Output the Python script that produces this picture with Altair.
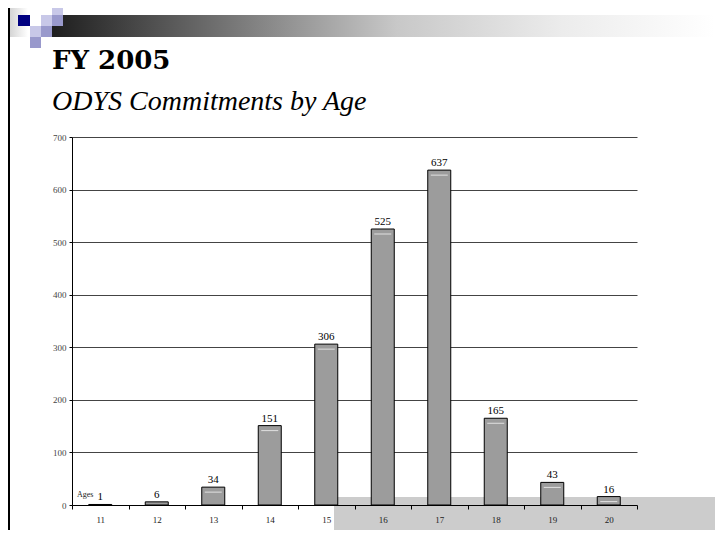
import altair as alt
import pandas as pd

# ---- data ----
ages = ["11", "12", "13", "14", "15", "16", "17", "18", "19", "20"]
commitments = [1, 6, 34, 151, 306, 525, 637, 165, 43, 16]
y_ticks = [0, 100, 200, 300, 400, 500, 600, 700]
title_text = "FY 2005"
subtitle_text = "ODYS Commitments by Age"
x_caption = "Ages"

df = pd.DataFrame({"age": ages, "value": commitments})
one = pd.DataFrame({"k": [0]})

SERIF = "Liberation Serif"

x_enc = alt.X(
    "age:N", sort=ages,
    scale=alt.Scale(paddingInner=0, paddingOuter=0),
    axis=alt.Axis(title=None, tickBand="extent", zindex=1, labelAngle=0,
                  domainColor="black", tickColor="black", tickSize=4,
                  labelPadding=6, labelFont=SERIF, labelFontSize=9,
                  labelColor="#222", grid=False),
)
y_enc = alt.Y(
    "value:Q",
    scale=alt.Scale(domain=[0, 700], nice=False, zero=True),
    axis=alt.Axis(title=None, values=y_ticks, grid=True, gridColor="#444",
                  gridOpacity=1, domainColor="black", tickColor="black",
                  tickSize=3, labelPadding=3, labelFont=SERIF,
                  labelFontSize=9, labelColor="#444"),
)


def rect(x, x2, y, y2, color):
    return alt.Chart(one).mark_rect(color=color).encode(
        x=alt.value(x), x2=alt.value(x2), y=alt.value(y), y2=alt.value(y2)
    )


# ---- decorations (slide template) ----
gray_box = rect(262, 651, 360, 406, "#cccccc")
left_strip = rect(-64, -44, -129, -100, alt.Gradient(
    gradient="linear", x1=0, x2=1, y1=0, y2=0,
    stops=[alt.GradientStop(color="#d0d0d0", offset=0),
           alt.GradientStop(color="#ffffff", offset=1)]))
header_bar = rect(-20, 643, -122, -100, alt.Gradient(
    gradient="linear", x1=0, x2=1, y1=0, y2=0,
    stops=[alt.GradientStop(color="#1e1e1e", offset=0),
           alt.GradientStop(color="#c8c8c8", offset=0.52),
           alt.GradientStop(color="#ececec", offset=0.77),
           alt.GradientStop(color="#ffffff", offset=1)]))
LIGHT = "#c8c8e8"
MED = "#9999cc"
squares = [
    rect(-20, -9, -132, -122, LIGHT),
    rect(-54, -42, -122, -111, "#000080"),
    rect(-31, -20, -122, -111, LIGHT),
    rect(-20, -9, -122, -111, MED),
    rect(-42, -31, -111, -100, LIGHT),
    rect(-31, -20, -111, -100, MED),
    rect(-42, -31, -100, -89, MED),
]
left_border = alt.Chart(one).mark_rule(color="black", strokeWidth=2).encode(
    x=alt.value(-63), y=alt.value(-129), y2=alt.value(406))

# ---- chart marks ----
base = alt.Chart(df)
bars = base.mark_bar(size=23, color="#9c9c9c", stroke="black",
                     strokeWidth=1).encode(x=x_enc, y=y_enc)
highlight = base.transform_filter("datum.value > 10").mark_tick(
    color="white", thickness=1, size=17, yOffset=5
).encode(x=alt.X("age:N", sort=ages), y="value:Q")
labels = base.mark_text(baseline="bottom", dy=-2, font=SERIF, fontSize=11,
                        color="black").encode(
    x=alt.X("age:N", sort=ages), y="value:Q", text="value:Q")

ages_cap = alt.Chart(one).mark_text(align="left", baseline="alphabetic",
                                    font=SERIF, fontSize=8, color="#222").encode(
    x=alt.value(5), y=alt.value(360), text=alt.value(x_caption))

title = alt.Chart(one).mark_text(align="left", baseline="alphabetic",
                                 font="DejaVu Serif", fontSize=26,
                                 fontWeight="bold", color="black").encode(
    x=alt.value(-20), y=alt.value(-68), text=alt.value(title_text))
subtitle = alt.Chart(one).mark_text(align="left", baseline="alphabetic",
                                    font=SERIF, fontSize=28, fontStyle="italic",
                                    color="black").encode(
    x=alt.value(-20), y=alt.value(-27), text=alt.value(subtitle_text))

chart = alt.layer(
    gray_box, left_strip, header_bar, *squares, left_border,
    bars, highlight, labels, ages_cap, title, subtitle,
).properties(
    width=565, height=368,
    autosize=alt.AutoSizeParams(type="none"),
    padding={"left": 64, "top": 129, "right": 78, "bottom": 25},
).configure_view(stroke=None)

chart.save("out.html", embed_options={"renderer": "svg", "actions": False})
